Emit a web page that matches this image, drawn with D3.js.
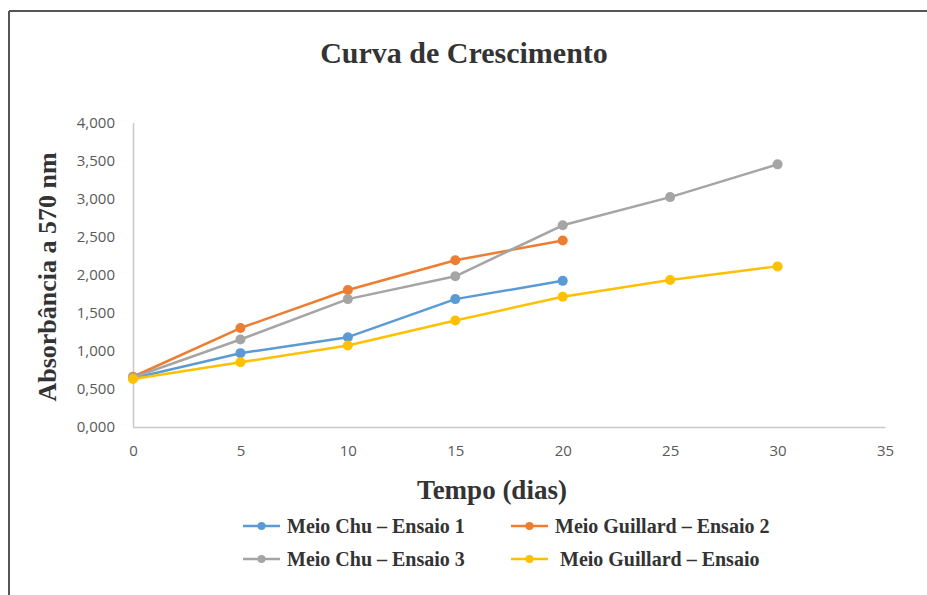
<!DOCTYPE html>
<html>
<head>
<meta charset="utf-8">
<script src="https://cdn.jsdelivr.net/npm/d3@7/dist/d3.min.js"></script>
<style>
  html, body { margin: 0; padding: 0; background: #fff; }
  svg { display: block; }
</style>
</head>
<body>
<svg id="chart" width="927" height="595"></svg>
<script>
// Growth curve data: absorbance at 570 nm over time (days)
const days = [0, 5, 10, 15, 20, 25, 30];
const chu1 = [0.64, 0.97, 1.18, 1.68, 1.92];
const guillard2 = [0.66, 1.30, 1.80, 2.19, 2.45];
const chu3 = [0.65, 1.15, 1.68, 1.98, 2.65, 3.02, 3.45];
const guillard = [0.63, 0.85, 1.07, 1.40, 1.71, 1.93, 2.11];

const seriesNames = ["Meio Chu \u2013 Ensaio 1", "Meio Guillard \u2013 Ensaio 2", "Meio Chu \u2013 Ensaio 3", "\u00a0Meio Guillard \u2013 Ensaio"];
const seriesValues = [chu1, guillard2, chu3, guillard];
const seriesColors = ["#5b9bd5", "#ed7d31", "#a5a5a5", "#ffc000"];

const xTicks = [0, 5, 10, 15, 20, 25, 30, 35];
const yTicks = [0, 0.5, 1, 1.5, 2, 2.5, 3, 3.5, 4];

const svg = d3.select("#chart");

// Outer frame (top and left edges visible)
svg.append("line").attr("x1", 9).attr("y1", 11).attr("x2", 927).attr("y2", 11)
  .attr("stroke", "#555").attr("stroke-width", 2);
svg.append("line").attr("x1", 9).attr("y1", 11).attr("x2", 9).attr("y2", 595)
  .attr("stroke", "#555").attr("stroke-width", 2);

const x = d3.scaleLinear().domain([0, 35]).range([133, 885]);
const y = d3.scaleLinear().domain([0, 4]).range([427, 122.5]);

const numFmt = v => d3.format(".3f")(v).replace(".", ",");

// Axes
const xAxis = svg.append("g").attr("transform", `translate(0,${y(0)})`)
  .call(d3.axisBottom(x).tickValues(xTicks).tickSize(0).tickPadding(18).tickFormat(d3.format("d")));
const yAxis = svg.append("g").attr("transform", `translate(${x(0)},0)`)
  .call(d3.axisLeft(y).tickValues(yTicks).tickSize(0).tickPadding(18).tickFormat(numFmt));

[xAxis, yAxis].forEach(g => {
  g.select(".domain").attr("stroke", "#c8c8c8").attr("stroke-width", 1.5);
  g.selectAll("text").attr("fill", "#595959")
    .style("font-family", "'Open Sans', sans-serif").style("font-size", "15px");
});

// Lines and markers
const line = d3.line().x((d, i) => x(days[i])).y(d => y(d));
seriesValues.forEach((vals, s) => {
  svg.append("path").datum(vals)
    .attr("d", line).attr("fill", "none")
    .attr("stroke", seriesColors[s]).attr("stroke-width", 2.5)
    .attr("stroke-linejoin", "round");
  svg.append("g").selectAll("circle").data(vals).join("circle")
    .attr("cx", (d, i) => x(days[i])).attr("cy", d => y(d))
    .attr("r", 5).attr("fill", seriesColors[s]);
});

// Titles
svg.append("text").attr("x", 464).attr("y", 63).attr("text-anchor", "middle")
  .style("font-family", "'Liberation Serif', serif").style("font-weight", "bold")
  .style("font-size", "30px").attr("fill", "#333").text("Curva de Crescimento");

svg.append("text").attr("x", 492).attr("y", 499).attr("text-anchor", "middle")
  .style("font-family", "'Liberation Serif', serif").style("font-weight", "bold")
  .style("font-size", "27px").attr("fill", "#333").text("Tempo (dias)");

svg.append("text").attr("transform", "translate(56,277) rotate(-90)").attr("text-anchor", "middle")
  .style("font-family", "'Liberation Serif', serif").style("font-weight", "bold")
  .style("font-size", "26px").attr("fill", "#333").text("Absorbância a 570 nm");

// Legend
const legendPos = [[243, 526], [511, 526], [243, 559], [511, 559]];
seriesNames.forEach((name, s) => {
  const [lx, ly] = legendPos[s];
  const g = svg.append("g").attr("transform", `translate(${lx},${ly})`);
  g.append("line").attr("x1", 0).attr("x2", 37).attr("y1", 0).attr("y2", 0)
    .attr("stroke", seriesColors[s]).attr("stroke-width", 2.5);
  g.append("circle").attr("cx", 18.5).attr("cy", 0).attr("r", 4).attr("fill", seriesColors[s]);
  g.append("text").attr("x", 44).attr("y", 7)
    .style("font-family", "'Liberation Serif', serif").style("font-weight", "bold")
    .style("font-size", "20px").attr("fill", "#333").text(name);
});
</script>
</body>
</html>
